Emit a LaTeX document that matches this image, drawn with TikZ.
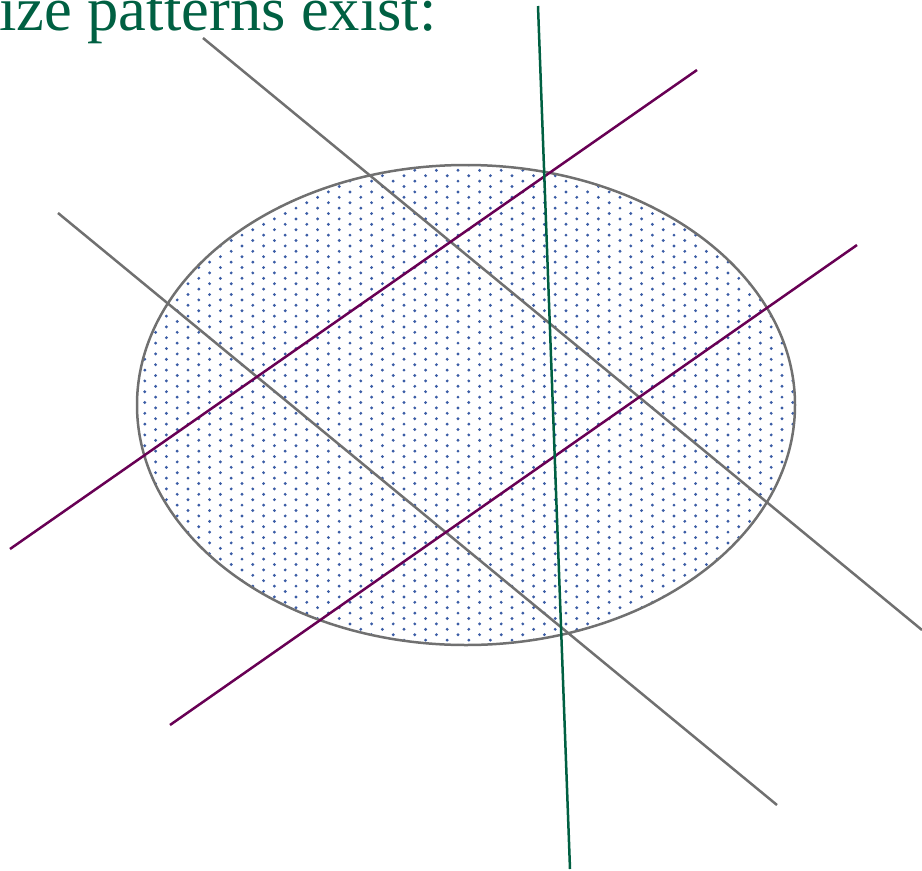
\documentclass[tikz,border=0pt]{standalone}
\usepackage{fontspec}
\setmainfont{Liberation Serif}
\definecolor{dkgreen}{RGB}{0,96,66}
\definecolor{plum}{RGB}{104,0,84}
\definecolor{lgray}{RGB}{112,112,112}
\definecolor{dotblue}{RGB}{58,92,165}
\tikzset{
  grayline/.style={draw=lgray, line width=2.5pt},
  plumline/.style={draw=plum, line width=2.5pt},
  greenline/.style={draw=dkgreen, line width=2.5pt},
  dotstyle/.style={fill=dotblue},
  title/.style={text=dkgreen, font=\fontsize{62.5}{62.5}\selectfont, inner sep=0pt, anchor=base west}
}
\begin{document}
\begin{tikzpicture}[x=1pt,y=-1pt]
\useasboundingbox (0,0) rectangle (922,871);
% dotted ellipse
\begin{scope}
  \clip (466,405) ellipse [x radius=328, y radius=239];
  \foreach \i in {0,...,62} {
    \foreach \j in {0,...,45} {
      \fill[dotstyle] ({134+10.8*\i},{159.5+5.4*mod(\i,2)+10.8*\j}) circle [radius=1.6];
    }
  }
\end{scope}
\draw[lgray, line width=2.5pt] (466,405) ellipse [x radius=329, y radius=240];
% endpoints
\coordinate (g1a) at (203,38);  \coordinate (g1b) at (922,630);
\coordinate (g2a) at (58,213);  \coordinate (g2b) at (777,805);
\coordinate (p1a) at (10,549);  \coordinate (p1b) at (697,70);
\coordinate (p2a) at (170,725); \coordinate (p2b) at (857,245);
\coordinate (ga) at (538,6);    \coordinate (gb) at (570,869);
\draw[grayline] (g1a) -- (g1b);
\draw[grayline] (g2a) -- (g2b);
\draw[plumline] (p1a) -- (p1b);
\draw[plumline] (p2a) -- (p2b);
\draw[greenline] (ga) -- (gb);
\node[title] (txt) at (-1,30) {ize patterns exist:};
\end{tikzpicture}
\end{document}
